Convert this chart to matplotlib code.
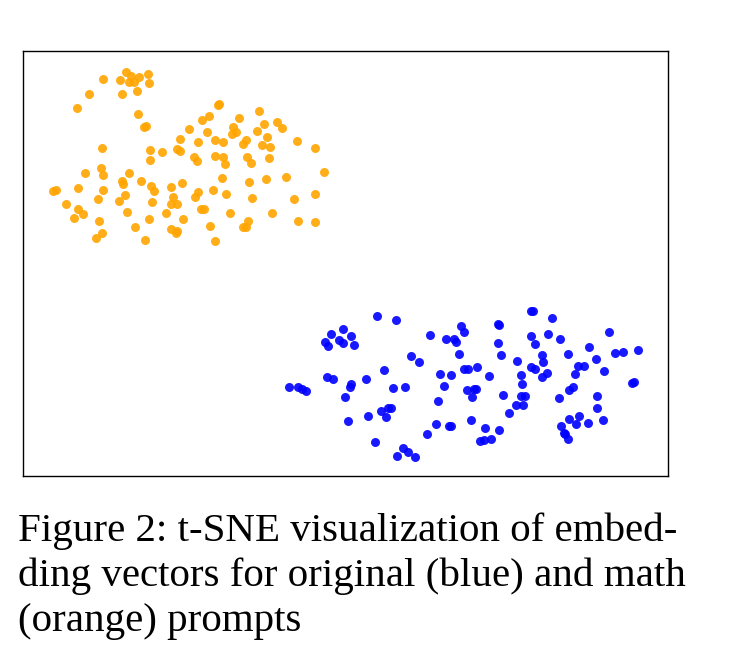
import matplotlib.pyplot as plt

# t-SNE coordinates (arbitrary units, y grows downward)
orange_x = [102.7, 126, 130.7, 120, 129.3, 134, 138.7, 148, 149, 136.7, 122.3, 89.3,
            76.7, 138.3, 144, 146, 188.5, 179.5, 101.7, 149.7, 161.7, 177.3, 180, 150,
            219.3, 217.7, 258.7, 209, 202, 239.3, 276.7, 282.3, 263.7, 207, 233.3, 232,
            236, 256.7, 266.7, 214.7, 222.7, 246, 243, 261.7, 270, 297.3, 315, 198,
            194, 196.7, 215.3, 222.7, 225.3, 247.3, 251, 269.2, 100.7, 102.7, 85.3, 128.7,
            121.7, 123.3, 140.7, 151.3, 154.3, 170.7, 182, 52.7, 55.7, 78.3, 102.7, 98,
            124.7, 119.3, 173.3, 152, 170.7, 176.7, 66.3, 77.7, 82.7, 74.3, 126.7, 99,
            165.7, 148.7, 183, 135, 171.3, 177.3, 176, 101.7, 96, 145, 222.3, 248.7,
            266.3, 286.3, 324, 197.7, 195, 213, 226.3, 252.3, 294, 314.7, 201.3, 204,
            229.7, 272, 248, 243.3, 246, 210, 297.7, 315.3, 215]
orange_y = [78.7, 71.7, 76, 80.3, 81.7, 81.7, 77.3, 74, 83, 91, 94, 94.3,
            108.3, 114, 126.7, 125.7, 129.3, 138.7, 148.5, 149.8, 152.5, 148.7, 150.7, 160,
            104, 105, 110.7, 116.3, 120, 117.7, 122.3, 127.7, 124.3, 132.3, 126.7, 133.7,
            131.7, 130.7, 136.7, 140, 142.3, 140, 144.3, 145, 147.3, 141, 148.3, 142.3,
            157.5, 160.7, 156.5, 157.5, 163.7, 157, 162.7, 157.8, 168.3, 175, 173.3, 173,
            180.7, 184.3, 181, 185.7, 190.7, 186.7, 183, 190.7, 190, 188.3, 189.7, 198.7,
            195, 201.3, 197, 202, 203.7, 204, 204, 208.7, 214.3, 218, 212, 220.7,
            212.7, 218.7, 218.7, 226.7, 228.7, 230.7, 233.3, 233.3, 238, 240.3, 177.7, 182,
            179, 177.3, 172, 191.7, 197.3, 189.7, 194, 197.7, 199.3, 193.7, 208.7, 209.3,
            213.3, 213, 220.7, 227.3, 226.7, 226, 220.7, 222, 241]

blue_x = [377.3, 396, 342.7, 331.3, 350.7, 325, 328, 338.7, 343.3, 354, 383.7, 327.3,
          333.3, 366.3, 461.3, 464, 498.3, 498.7, 430, 446.3, 454.3, 456, 497.7, 459.3,
          501.3, 411.3, 419, 516.7, 477, 464.3, 468.3, 440, 450.7, 488.7, 520.5, 531,
          533.3, 552.3, 530.7, 534.7, 547.7, 559.7, 608.7, 589.3, 568, 615, 623.3, 638,
          542, 543.3, 596.3, 577.7, 584, 531, 534.7, 603.7, 575.3, 546.7, 542, 631.7,
          634.3, 289.3, 298.3, 301.7, 305.7, 350.7, 349.7, 344.7, 393, 405.3, 381, 387.7,
          391, 386, 368.3, 347.7, 374.7, 402.7, 396.7, 408.3, 415, 444.3, 467, 474,
          476, 471.7, 437.7, 502.7, 522, 520.7, 525.3, 522.7, 516.3, 509.3, 470.7, 435.7,
          449, 451, 427, 485.3, 499.3, 480, 483.7, 491.3, 569, 572.7, 559, 597.3,
          597, 568.7, 578.7, 576, 587.7, 603, 560.7, 563.7, 565, 567.7]
blue_y = [315.7, 319.7, 329, 333.7, 336.3, 341.7, 346.3, 339.7, 342.7, 344.7, 370, 377,
          379, 379, 326, 331.7, 324, 325.3, 334.7, 338.7, 339, 341.7, 342.7, 354.3,
          355, 356, 362.3, 361.3, 366.7, 369.5, 369.5, 373.8, 375, 376, 375, 310.7,
          310.7, 317.7, 336, 344.3, 334.3, 339.3, 331.7, 347, 354.3, 353.3, 351.7, 350.3,
          355, 362.3, 358.7, 366, 366, 366.7, 369, 371, 374, 372.7, 377.3, 383.3,
          382.3, 387.3, 387.3, 389.3, 391.3, 384, 386.7, 397, 388.3, 387.3, 411.3, 407.7,
          407.7, 416.7, 416.3, 421.3, 441.7, 447.7, 456, 451.7, 456.7, 385.7, 390, 388.7,
          389, 396.7, 400.7, 395.3, 384.3, 396, 395.7, 404.7, 405.3, 412.7, 419.7, 424,
          426, 426, 433.7, 428, 430.3, 440.7, 439.7, 439.3, 390, 387.3, 398.3, 396,
          408.3, 419, 416.3, 423.7, 423.3, 420, 426, 433.3, 434.3, 438.7]

caption = ["Figure 2: t-SNE visualization of embed-",
           "ding vectors for original (blue) and math",
           "(orange) prompts"]

fig = plt.figure(figsize=(7.48, 6.66), dpi=100)
ax = fig.add_axes([23 / 748, 1 - 476 / 666, 645 / 748, 425 / 666])

ax.scatter(orange_x, orange_y, s=42, color='orange', alpha=0.9, linewidths=0)
ax.scatter(blue_x, blue_y, s=42, color='blue', alpha=0.9, linewidths=0)

ax.set_xlim(23, 668)
ax.set_ylim(476, 51)
ax.set_xticks([])
ax.set_yticks([])
for sp in ax.spines.values():
    sp.set_linewidth(1.0)

# caption below the plot
for i, line in enumerate(caption):
    fig.text(18 / 748, 1 - (541 + 45 * i) / 666, line, family='Liberation Serif',
             fontsize=29.5, va='baseline', ha='left')

fig.savefig("out.png", dpi=100)
